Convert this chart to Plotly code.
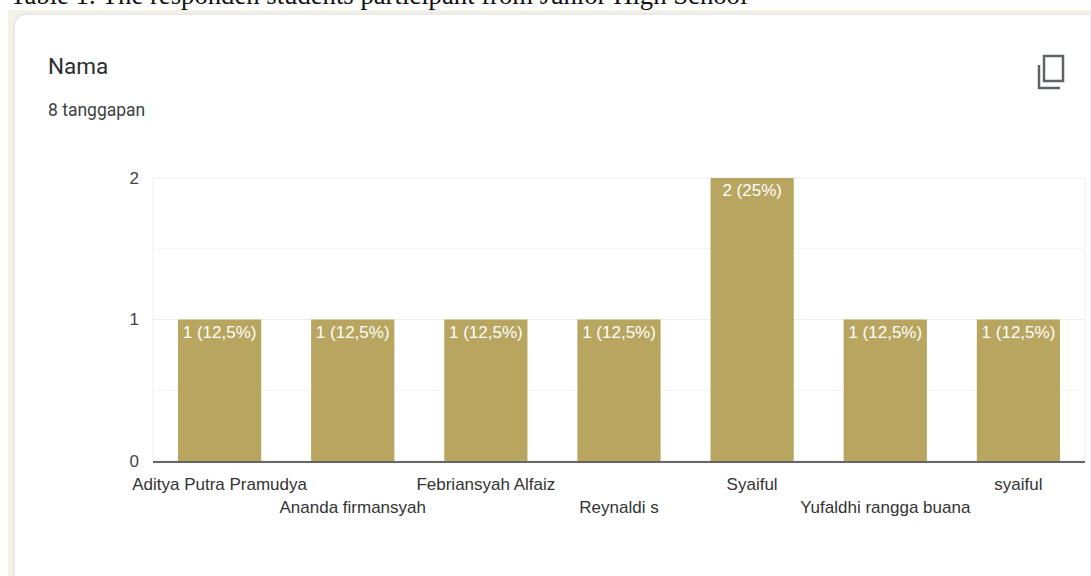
import plotly.graph_objects as go

categories = ["Aditya Putra Pramudya", "Ananda firmansyah", "Febriansyah Alfaiz", "Reynaldi s", "Syaiful", "Yufaldhi rangga buana", "syaiful"]
values = [1, 1, 1, 1, 2, 1, 1]
bar_labels = ["1 (12,5%)", "1 (12,5%)", "1 (12,5%)", "1 (12,5%)", "2 (25%)", "1 (12,5%)", "1 (12,5%)"]
tick_labels = ["Aditya Putra Pramudya", "<br>Ananda firmansyah", "Febriansyah Alfaiz", "<br>Reynaldi s", "Syaiful", "<br>Yufaldhi rangga buana", "syaiful"]

W, H = 1091, 576
L, R, T, B = 153, 1085, 178, 461
def X(p): return (p - L) / (R - L)
def Y(p): return (B - p) / (B - T)

fig = go.Figure(go.Bar(
    x=categories, y=values, text=bar_labels, textposition="inside", insidetextanchor="end",
    textangle=0, constraintext="none",
    textfont=dict(color="#ffffff", size=17, family="Liberation Sans"),
    marker=dict(color="#b8a55f", line_width=0), width=0.625, hoverinfo="skip"))

def rrect(x0, y0, x1, y1, r):
    return (f"M{X(x0)},{Y(y0+r)} Q{X(x0)},{Y(y0)} {X(x0+r)},{Y(y0)} L{X(x1)},{Y(y0)} L{X(x1)},{Y(y1)} "
            f"L{X(x0+r)},{Y(y1)} Q{X(x0)},{Y(y1)} {X(x0)},{Y(y1-r)} Z")

shapes = [
    dict(type="rect", xref="paper", yref="paper", layer="below", x0=X(8), x1=X(1091), y0=Y(10), y1=Y(576),
         fillcolor="#f4f1e7", line_width=0),
    dict(type="path", xref="paper", yref="paper", layer="below", path=rrect(14, 14, 1091, 590, 14),
         fillcolor="#ffffff", line=dict(color="#e3e4ea", width=1.5)),
    dict(type="rect", xref="paper", yref="paper", layer="below", x0=0, x1=1, y0=0, y1=1,
         fillcolor="rgba(0,0,0,0)", line=dict(color="#eeeeee", width=1)),
    dict(type="path", xref="paper", yref="paper",
         path=f"M{X(1039)},{Y(65)} L{X(1039)},{Y(88)} L{X(1060)},{Y(88)}",
         line=dict(color="#5f6368", width=2.5), fillcolor="rgba(0,0,0,0)"),
    dict(type="rect", xref="paper", yref="paper",
         x0=X(1044), x1=X(1063), y0=Y(56), y1=Y(81),
         line=dict(color="#5f6368", width=2.5), fillcolor="rgba(0,0,0,0)"),
]

annotations = [
    dict(text="Table 1. The responden students participant from Junior High School", xref="paper", yref="paper",
         x=X(8), y=Y(12), xanchor="left", yanchor="bottom", showarrow=False,
         font=dict(family="Liberation Serif", size=26.7, color="#111111")),
    dict(text="Nama", xref="paper", yref="paper", x=X(46), y=Y(66), xanchor="left", yanchor="middle",
         showarrow=False, font=dict(family="Roboto", size=22.5, color="#2b2d31")),
    dict(text="8 tanggapan", xref="paper", yref="paper", x=X(46), y=Y(110), xanchor="left", yanchor="middle",
         showarrow=False, font=dict(family="Roboto", size=17.5, color="#3c4043")),
]

fig.update_layout(
    width=W, height=H, margin=dict(l=L, r=W - R, t=T, b=H - B, autoexpand=False),
    paper_bgcolor="#ffffff", plot_bgcolor="rgba(0,0,0,0)", showlegend=False,
    shapes=shapes, annotations=annotations, bargap=0.375,
    font=dict(family="Liberation Sans", color="#3a3a3a"),
    xaxis=dict(type="category", range=[-0.5, 6.5], tickmode="array", tickvals=categories, ticktext=tick_labels,
               tickangle=0, ticks="", showgrid=False, showline=True, linecolor="#666666", linewidth=2,
               ticklabelstandoff=7,
               tickfont=dict(size=17, family="Liberation Sans", color="#333333"), zeroline=False, automargin=False),
    yaxis=dict(range=[0, 2], tickvals=[0, 1, 2], ticks="", showline=False, zeroline=False,
               gridcolor="#eeeeee", gridwidth=1, ticklabelstandoff=13,
               minor=dict(tickvals=[0.5, 1.5], showgrid=True, gridcolor="#f5f5f5", gridwidth=1, ticks=""),
               tickfont=dict(size=17, family="Liberation Sans", color="#444444"), automargin=False),
)

fig.write_html("out.html", config={"displayModeBar": False},
               post_script="document.body.style.margin='0';document.body.style.overflow='hidden';")
